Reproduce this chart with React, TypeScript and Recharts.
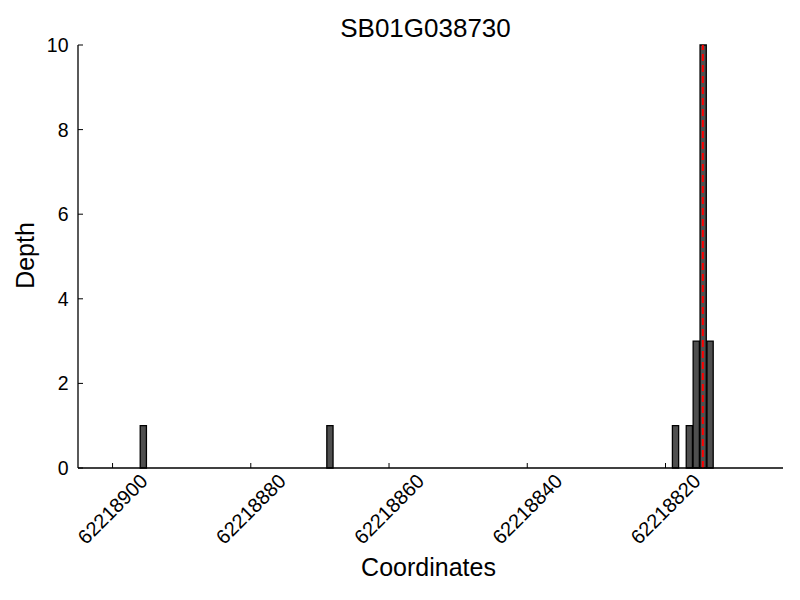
import React from 'react';
import { BarChart, Bar, XAxis, YAxis, ReferenceLine } from 'recharts';

// read-coordinate (bar start) and depth for each covered position
const coordinates = [62218895, 62218868, 62218818, 62218816, 62218815, 62218814, 62218813];
const depths = [1, 1, 1, 1, 3, 10, 3];

const xTicks = [62218900, 62218880, 62218860, 62218840, 62218820];
const yTicks = [0, 2, 4, 6, 8, 10];
const xDomain = [62218803, 62218905];
const markerPosition = 62218814.6;

const FONT = '"Liberation Sans", Arial, Helvetica, sans-serif';

// bars are one base wide, starting at the coordinate
const data = coordinates.map((c, i) => ({ pos: c + 0.5, depth: depths[i] }));

const YTick = (props: any) => {
  const { x, y, payload } = props;
  return (
    <g>
      <line x1={x} x2={x + 5} y1={y} y2={y} stroke="#000" strokeWidth={1} />
      <text x={x - 9.5} y={y} textAnchor="end" dominantBaseline="central" fontSize={19.5} fontFamily={FONT} fill="#000">
        {payload.value}
      </text>
    </g>
  );
};

const XTick = (props: any) => {
  const { x, y, payload } = props;
  const cy = y + 41;
  return (
    <g>
      <line x1={x} x2={x} y1={y} y2={y - 5} stroke="#000" strokeWidth={1} />
      <text
        x={x}
        y={cy}
        textAnchor="middle"
        dominantBaseline="central"
        fontSize={20}
        fontFamily={FONT}
        fill="#000"
        transform={`rotate(-45, ${x}, ${cy})`}
      >
        {payload.value}
      </text>
    </g>
  );
};

export default function App() {
  const plotWidth = 800 - 78 - 17;
  const barWidth = plotWidth / (xDomain[1] - xDomain[0]);

  return (
    <div style={{ position: 'absolute', left: 0, top: 0, width: 800, height: 600, background: '#fff' }}>
      <BarChart width={800} height={600} data={data} margin={{ top: 45, right: 17, bottom: 42, left: 0 }}>
        <XAxis
          dataKey="pos"
          type="number"
          domain={xDomain}
          ticks={xTicks}
          reversed
          allowDataOverflow
          height={90}
          tickSize={0}
          tickMargin={0}
          tickLine={false}
          tick={<XTick />}
          interval={0}
          stroke="#000"
          strokeWidth={1.3}
        />
        <YAxis
          type="number"
          domain={[0, 10]}
          ticks={yTicks}
          width={78}
          tickSize={0}
          tickMargin={0}
          tickLine={false}
          tick={<YTick />}
          interval={0}
          stroke="#000"
          strokeWidth={1.3}
        />
        <Bar
          dataKey="depth"
          fill="#4f4f4f"
          stroke="#000"
          strokeWidth={1.3}
          barSize={barWidth}
          isAnimationActive={false}
        />
        <ReferenceLine x={markerPosition} stroke="#ff0000" strokeWidth={2} strokeDasharray="7 4" />
      </BarChart>
      <svg width={800} height={600} style={{ position: 'absolute', left: 0, top: 0, pointerEvents: 'none' }}>
        <text x={425.5} y={36.7} textAnchor="middle" fontSize={26} fontFamily={FONT} fill="#000">
          SB01G038730
        </text>
        <text x={428.5} y={576} textAnchor="middle" fontSize={25} fontFamily={FONT} fill="#000">
          Coordinates
        </text>
        <text x={34} y={255.5} textAnchor="middle" fontSize={25} fontFamily={FONT} fill="#000" transform="rotate(-90, 34, 255.5)">
          Depth
        </text>
      </svg>
    </div>
  );
}
